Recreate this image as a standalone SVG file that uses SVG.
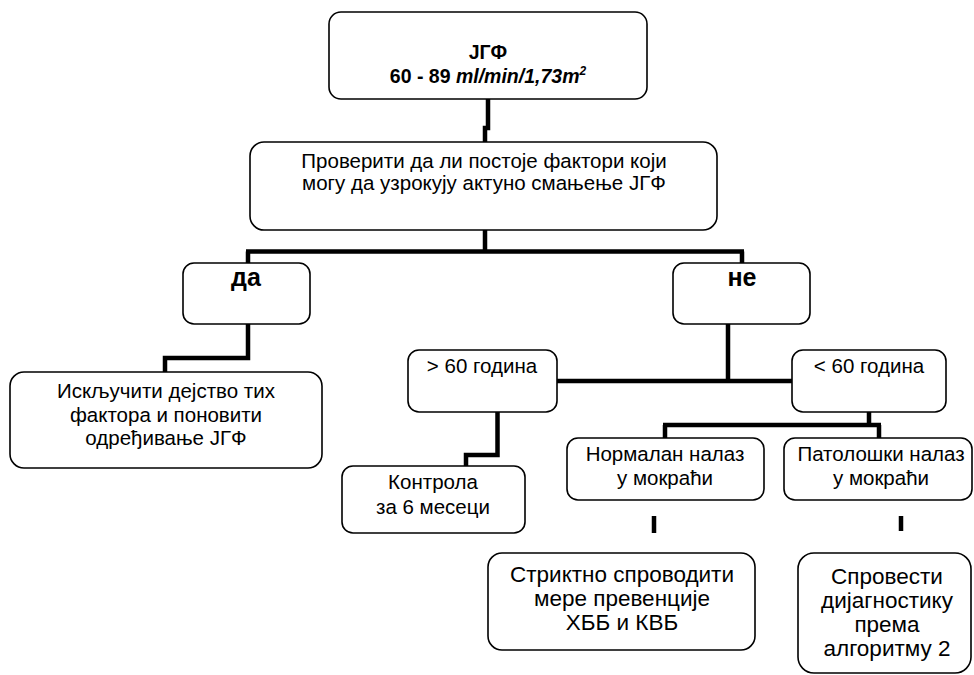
<svg xmlns="http://www.w3.org/2000/svg" width="974" height="675" viewBox="0 0 974 675">
<style>
.box{fill:#fff;stroke:#000;stroke-width:1.6}
.t{font-family:"Liberation Sans",Arial,sans-serif;font-size:20.5px;fill:#000;text-anchor:middle}
.L{font-size:22.5px}
.b{font-family:"Liberation Sans",Arial,sans-serif;font-weight:bold;fill:#000;text-anchor:middle}
.c{fill:none;stroke:#000;stroke-width:4.5;stroke-linejoin:miter;stroke-linecap:butt}
</style>
<rect width="974" height="675" fill="#fff"/>
<g id="connectors">
<path class="c" d="M488,99 V128 H485 V143"/>
<path class="c" d="M485,230 V251.5 M246,251.5 H744 M248,251.5 V264 M742,251.5 V264"/>
<path class="c" d="M248,324 V358 H165 V372"/>
<path class="c" d="M728,322 V381 M557,381 H793"/>
<path class="c" d="M497.5,412 V455 H466 V466"/>
<path class="c" d="M869,412 V425 M663,425 H881 M665,425 V439 M879,425 V439"/>
<path class="c" d="M654,516 V533 M901,516 V531"/>
</g>
<g id="n-jgf">
<rect class="box" x="329" y="12" width="318" height="87" rx="12"/>
<text class="b" x="488" y="59" font-size="19.5">ЈГФ</text>
<text class="b" x="488" y="83" font-size="19.5">60 - 89 <tspan font-style="italic">ml/min/1,73m</tspan><tspan font-style="italic" font-size="12" dy="-8">2</tspan></text>
</g>
<g id="n-check">
<rect class="box" x="250" y="142" width="467" height="88" rx="14"/>
<text class="t" x="484" y="168">Проверити да ли постоје фактори који</text>
<text class="t" x="484" y="190">могу да узрокују актуно смањење ЈГФ</text>
</g>
<g id="n-da">
<rect class="box" x="183" y="263" width="127" height="61" rx="11"/>
<text class="b" x="246" y="286" font-size="25">да</text>
</g>
<g id="n-ne">
<rect class="box" x="673" y="263" width="137" height="61" rx="11"/>
<text class="b" x="742" y="286" font-size="25">не</text>
</g>
<g id="n-iskljuciti">
<rect class="box" x="10" y="372" width="312" height="96" rx="14"/>
<text class="t" x="166" y="398">Искључити дејство тих</text>
<text class="t" x="166" y="422">фактора и поновити</text>
<text class="t" x="166" y="445">одређивање ЈГФ</text>
</g>
<g id="n-gt60">
<rect class="box" x="408" y="350" width="149" height="62" rx="11"/>
<text class="t" x="482" y="373">&gt; 60 година</text>
</g>
<g id="n-lt60">
<rect class="box" x="792" y="350" width="154" height="62" rx="11"/>
<text class="t" x="869" y="373">&lt; 60 година</text>
</g>
<g id="n-kontrola">
<rect class="box" x="342" y="466" width="183" height="67" rx="11"/>
<text class="t" x="433" y="489">Контрола</text>
<text class="t" x="433" y="514">за 6 месеци</text>
</g>
<g id="n-normalan">
<rect class="box" x="567" y="438" width="197" height="62" rx="11"/>
<text class="t" x="665" y="461">Нормалан налаз</text>
<text class="t" x="665" y="485">у мокраћи</text>
</g>
<g id="n-patoloski">
<rect class="box" x="784" y="438" width="188" height="62" rx="11"/>
<text class="t" x="881" y="461">Патолошки налаз</text>
<text class="t" x="881" y="485">у мокраћи</text>
</g>
<g id="n-striktno">
<rect class="box" x="488" y="553" width="267" height="97" rx="14"/>
<text class="t L" x="622" y="582">Стриктно спроводити</text>
<text class="t L" x="622" y="606">мере превенције</text>
<text class="t L" x="622" y="630">ХББ и КВБ</text>
</g>
<g id="n-sprovesti">
<rect class="box" x="798" y="553" width="173" height="120" rx="16"/>
<text class="t L" x="887" y="584">Спровести</text>
<text class="t L" x="887" y="608">дијагностику</text>
<text class="t L" x="887" y="632">према</text>
<text class="t L" x="887" y="656">алгоритму 2</text>
</g>
</svg>
